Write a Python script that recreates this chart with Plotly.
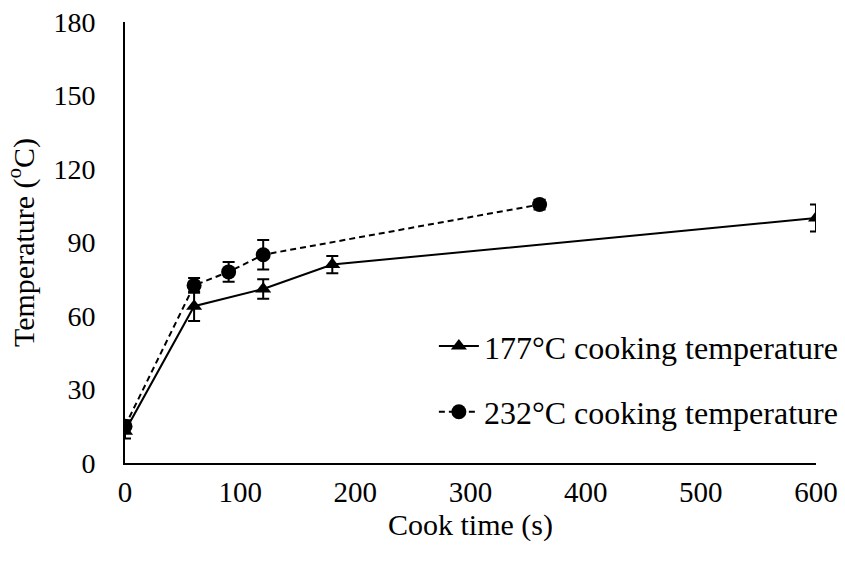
import plotly.graph_objects as go

# 177°C cooking temperature series
t177 = [0, 60, 120, 180, 600]
y177 = [13, 64, 71, 81, 100]
e177 = [3, 6, 4, 3.5, 5.5]

# 232°C cooking temperature series
t232 = [0, 60, 90, 120, 360]
y232 = [15, 72.5, 78, 85, 105.5]
e232 = [2.5, 3, 4, 6, 2]

names = ["177°C cooking temperature", "232°C cooking temperature"]
x_ticks = [0, 100, 200, 300, 400, 500, 600]
y_ticks = [0, 30, 60, 90, 120, 150, 180]

FONT = "Liberation Serif, Times New Roman, serif"

fig = go.Figure()
fig.add_trace(go.Scatter(
    x=t177, y=y177, name=names[0], mode="lines+markers", legendgroup="a",
    line=dict(color="black", width=2),
    marker=dict(symbol="triangle-up", size=14, color="black"),
    error_y=dict(type="data", array=e177, visible=True, color="black", thickness=2, width=6),
))
fig.add_trace(go.Scatter(
    x=t232, y=y232, name=names[1], mode="lines+markers", legendgroup="b",
    line=dict(color="black", width=2, dash="6px,4px"),
    marker=dict(symbol="circle", size=15, color="black"),
    error_y=dict(type="data", array=e232, visible=True, color="black", thickness=2, width=6),
))

fig.update_layout(
    width=845, height=563,
    margin=dict(l=125, r=29, t=22, b=100, autoexpand=False),
    paper_bgcolor="white", plot_bgcolor="white",
    font=dict(family=FONT, size=29, color="black"),
    showlegend=True,
    legend=dict(
        x=0.447, y=0.327, xanchor="left", yanchor="top",
        font=dict(family=FONT, size=32, color="black"),
        bgcolor="rgba(0,0,0,0)", tracegroupgap=21, traceorder="grouped",
        itemwidth=40,
    ),
    xaxis=dict(
        range=[0, 600], tickvals=x_ticks, ticktext=[str(v) for v in x_ticks],
        showline=True, linecolor="black", linewidth=2, showgrid=False, zeroline=False,
        ticks="", ticklabelstandoff=2, automargin=False,
        tickfont=dict(family=FONT, size=29, color="black"),
        title=dict(text="Cook time (s)", font=dict(family=FONT, size=30, color="black"), standoff=6),
    ),
    yaxis=dict(
        range=[0, 180], tickvals=y_ticks, ticktext=[str(v) for v in y_ticks],
        showline=True, linecolor="black", linewidth=2, showgrid=False, zeroline=False,
        ticks="", ticklabelstandoff=22, automargin=False,
        tickfont=dict(family=FONT, size=28, color="black"),
        title=dict(text="Temperature (<sup>o</sup>C)", font=dict(family=FONT, size=30, color="black"), standoff=10),
    ),
)

fig.write_html("out.html")
